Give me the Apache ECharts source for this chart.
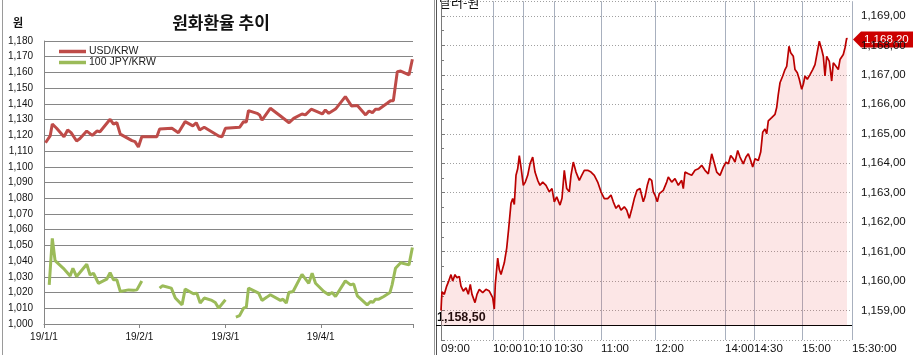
<!DOCTYPE html>
<html><head><meta charset="utf-8">
<script src="https://cdn.jsdelivr.net/npm/echarts@6/dist/echarts.min.js"></script>
<style>html,body{margin:0;padding:0;background:#fff}#c{width:913px;height:355px}</style>
</head><body><div id="c"></div>
<script>
// ---- Left panel: daily rates (x = days since 2019-01-01) ----
const monthTicks = [0, 31, 59, 90, 120];
const monthLabels = ['19/1/1', '19/2/1', '19/3/1', '19/4/1', ''];
const usdDays = [0.5,2,2.7,4.1,6.5,7.7,8.8,10.6,11.7,13.9,15.7,17.2,18.2,21.5,22.6,23.7,24.8,28.6,29.6,30.7,31.8,36.7,37.6,41.6,43.7,45.9,48.4,49.5,50.6,52.1,56.8,57.9,59,63.6,64.9,65.8,66.5,69.3,70.1,70.9,73.6,76.9,79.7,81.2,83.9,85,86.9,90.5,91.5,92.6,94.8,98,100,101.9,104.6,105.7,106.8,107.8,108.9,111.6,112.7,113.6,114.9,116,118.7,119.8];
const usdVals = [1115.3,1119.6,1127.2,1124.5,1119.1,1123.4,1121.7,1116.4,1118,1122.7,1120,1122.7,1122.3,1130.2,1127.2,1128,1120.8,1116.6,1116,1112.6,1119.1,1119.1,1124,1124.5,1121.7,1128.7,1126,1128,1123.4,1125.1,1119.6,1119.1,1124.5,1125.1,1128.7,1128.5,1135.7,1134,1133,1129.7,1137.2,1132.3,1128,1130.8,1133.6,1133,1136.6,1133.6,1136.1,1134,1136.7,1144.6,1138.7,1138.9,1133,1135.5,1134.4,1136.6,1136.6,1140.4,1142,1142,1160.5,1160.9,1158.4,1168.4];
const jpyDays = [1.7,2.7,3.6,6.3,8.5,9.4,10.6,13.9,15,16.1,17.7,20.4,21.5,22.6,23.7,24.8,27.5,29.1,30.2,31.8,34,37.6,38.5,41.4,42.7,44.9,45.9,48.6,49.7,50.8,52.1,54.6,55.7,56.8,59,61,62.4,63.6,64.9,65.8,66.5,69.8,70.9,72.5,73.6,76.9,77.7,78.8,79.6,81,83.9,86.1,87.2,88.3,91,92.6,93.7,94.8,98,99.7,100.7,101.9,105.1,106.2,107,107.8,108.9,110.5,112.5,113.2,114.3,116,118.7,119.8];
const jpyVals = [1024.9,1054.4,1040.3,1035.4,1030.6,1035.4,1030.2,1038,1031.2,1032.3,1025.9,1028.5,1032.7,1028.1,1028.1,1020.7,1021.7,1021.4,1021.7,1027.4,null,1022.8,1024.3,1022.8,1016.5,1012.2,1022.2,1019.2,1019.6,1013.3,1016.5,1015,1013.7,1010.1,1015.4,null,1004.4,1005.3,1010.1,1010.8,1022.8,1019.6,1015,1017.1,1018.6,1015,1015.8,1013.3,1020,1020.7,1031.6,1025.9,1032.3,1025.9,1020.7,1018.6,1020,1017.5,1027.4,1024.9,1025.5,1017.9,1012.2,1014.3,1013.7,1015.8,1015.8,1017.5,1020,1024.9,1035.4,1039,1037.6,1048.7];

// ---- Right panel: intraday USD/KRW (x = tick position index) ----
const timeTicks = [0, 52, 82, 113, 160, 214, 284, 313, 361, 411];
const timeLabels = ['09:00','10:00','10:10','10:30','11:00','12:00','14:00','14:30','15:00','15:30:00'];
const ivIdx = [0,0.5,1,3.3,5.7,7.7,10,11.7,14,16,18.3,20,22.3,25,27.3,29.3,31,34,36,38.3,41.7,45,48.3,50,51.7,53.3,54.3,56.7,58.3,60,63.3,65.7,67.7,70,71.7,73.3,75,76.7,78.3,80,82.3,84.3,86.7,89,91.7,94,96.7,99,101.7,105,108.3,111,113.3,115.7,119,121,123.3,125.7,128.3,130,132.3,135,138.3,140.7,143.3,146.7,150,153.3,156.7,160,163.3,166.7,170,172.3,175,177.7,180,183.3,185.7,188.3,191,193.3,196,199,202.3,204,206.3,208.3,210.7,212.3,214,216.3,218.3,222.3,225.7,227.3,230.7,234,237.3,240.7,242.3,244,247.3,250.7,254,257.3,260.7,264,267.3,270.7,273,275.7,279,282.3,285,287.3,289.7,292.3,294,296.7,299,302.3,305,307.3,309.7,311.7,314,317.3,319.7,321.7,324,325.7,327.3,330.7,334,335.7,337.3,339,341.7,344,345.7,348,349.7,352.3,354,356.3,358.3,360.7,362.3,364,366.3,369,371.7,374,375.7,378.3,380.7,382.3,384,385.7,388.3,390.7,392.3,395,397.3,399,402.3,404,405.7,406];
const ivVals = [1159.0,1159.35,1159.64,1159.55,1159.83,1160.0,1160.22,1160.0,1160.22,1160.11,1160.16,1159.83,1159.66,1159.77,1159.55,1159.89,1159.55,1159.27,1159.55,1159.72,1159.61,1159.72,1159.66,1159.72,1159.44,1159.05,1159.89,1160.78,1160.39,1160.22,1160.62,1161.12,1161.79,1162.64,1162.8,1162.6,1163.59,1163.81,1164.26,1163.87,1163.25,1163.36,1163.59,1163.98,1164.21,1163.7,1163.42,1163.25,1163.36,1163.25,1163.03,1163.14,1162.69,1162.86,1162.58,1162.81,1163.76,1163.14,1163.03,1163.59,1164.04,1163.7,1163.42,1163.59,1163.76,1163.76,1163.7,1163.59,1163.36,1163.03,1162.8,1162.8,1162.92,1162.69,1162.47,1162.58,1162.41,1162.52,1162.41,1162.13,1162.47,1162.8,1163.08,1163.14,1162.69,1162.86,1163.25,1163.48,1163.42,1163.03,1162.92,1162.69,1162.97,1163.08,1163.36,1163.53,1163.36,1163.48,1163.25,1163.42,1163.14,1163.7,1163.64,1163.59,1163.76,1163.81,1163.93,1163.76,1163.64,1164.32,1164.04,1163.7,1163.59,1163.87,1164.04,1163.98,1164.26,1164.15,1164.04,1164.43,1164.21,1163.98,1164.21,1164.32,1164.09,1163.87,1164.15,1164.09,1164.38,1165.05,1165.16,1165.0,1165.44,1165.55,1165.66,1165.89,1166.34,1166.73,1166.96,1167.18,1167.29,1167.97,1167.75,1167.63,1167.18,1167.07,1166.85,1166.51,1166.68,1166.96,1166.85,1167.01,1167.18,1167.35,1167.3,1168.14,1167.86,1167.63,1166.96,1167.63,1167.46,1166.79,1167.41,1167.29,1167.18,1167.52,1167.69,1167.92,1168.25,1168.2];
const lastPrice = 1168.20;
const basePrice = 1158.50;

const fmtInt = v => String(v).replace(/\B(?=(\d{3})+(?!\d))/g, ',');
const fmtDec = v => { const p = v.toFixed(2).split('.'); return fmtInt(p[0]) + ',' + p[1]; };

const usdData = usdDays.map((d, i) => [d, usdVals[i]]);
const jpyData = jpyDays.map((d, i) => [d, jpyVals[i] == null ? '-' : jpyVals[i]]);
const ivData = ivIdx.map((d, i) => [d, ivVals[i]]);

const F = 'Liberation Sans, Arial, sans-serif';
const chart = echarts.init(document.getElementById('c'), null, {renderer: 'canvas'});
chart.setOption({
  animation: false,
  backgroundColor: '#fff',
  textStyle: {fontFamily: F},
  legend: {
    data: ['USD/KRW', '100 JPY/KRW'], orient: 'vertical', left: 54, top: 41,
    icon: 'rect', itemWidth: 27, itemHeight: 3.5, itemGap: 0,
    textStyle: {fontSize: 10.5, color: '#222', fontFamily: F, padding: [0, 0, 0, -2]}
  },
  grid: [
    {left: 44, right: 500, top: 41, bottom: 31},
    {left: 441, right: 61, top: 1.2, bottom: 12.3}
  ],
  xAxis: [
    {type: 'value', gridIndex: 0, min: 0, max: 120,
     axisLine: {lineStyle: {color: '#868686'}},
     axisTick: {show: true, customValues: monthTicks, length: 4, lineStyle: {color: '#868686'}},
     axisLabel: {customValues: monthTicks.slice(0, 4), fontSize: 10, color: '#111', margin: 8,
       formatter: v => monthLabels[monthTicks.indexOf(v)] || ''},
     splitLine: {show: false}},
    {type: 'value', gridIndex: 1, min: 0, max: 411,
     axisLine: {show: false},
     axisTick: {show: false, customValues: timeTicks},
     axisLabel: {customValues: timeTicks, fontSize: 11.5, color: '#111', margin: 3, align: 'left',
       formatter: v => timeLabels[timeTicks.indexOf(v)] || ''},
     splitLine: {show: true, lineStyle: {color: '#a8b0be', width: 1}}}
  ],
  yAxis: [
    {type: 'value', gridIndex: 0, min: 1000, max: 1180, interval: 10,
     axisLine: {show: true, lineStyle: {color: '#868686'}},
     axisTick: {show: false},
     axisLabel: {fontSize: 10, color: '#111', margin: 11, formatter: v => fmtInt(v)},
     splitLine: {show: true, lineStyle: {color: '#868686', width: 1}}},
    {type: 'value', gridIndex: 1, position: 'right', min: 1158, max: 1169.5, interval: 1,
     axisLine: {show: true, lineStyle: {color: '#7a7a7a'}},
     axisTick: {show: true, length: 4, lineStyle: {color: '#7a7a7a'}},
     minorTick: {show: true, splitNumber: 2, length: 3, lineStyle: {color: '#7a7a7a'}},
     axisLabel: {fontSize: 11.5, color: '#111', margin: 9,
       formatter: v => (v % 1 !== 0 || v <= 1158) ? '' : fmtDec(v)},
     splitLine: {show: true, lineStyle: {color: '#a0a0a0', type: [1, 2], width: 1}}}
  ],
  series: [
    {name: 'USD/KRW', type: 'line', xAxisIndex: 0, yAxisIndex: 0, data: usdData,
     showSymbol: false, lineStyle: {color: '#BE4B48', width: 3}, itemStyle: {color: '#BE4B48'}},
    {name: '100 JPY/KRW', type: 'line', xAxisIndex: 0, yAxisIndex: 0, data: jpyData,
     showSymbol: false, connectNulls: false, lineStyle: {color: '#9BBB59', width: 3}, itemStyle: {color: '#9BBB59'}},
    {name: 'intraday', type: 'line', xAxisIndex: 1, yAxisIndex: 1, data: ivData,
     showSymbol: false, lineStyle: {color: '#bb0000', width: 1.7},
     areaStyle: {color: 'rgba(235,90,90,0.22)', origin: basePrice}}
  ]
});

const yTag = chart.convertToPixel({yAxisIndex: 1}, lastPrice);
const yBase = chart.convertToPixel({yAxisIndex: 1}, basePrice);
const KR = '"Noto Sans CJK KR", sans-serif';
chart.setOption({
  graphic: [
    {type: 'line', shape: {x1: 2.5, y1: 0, x2: 2.5, y2: 355}, style: {stroke: '#9a9a9a', lineWidth: 1}},
    {type: 'line', shape: {x1: 434.5, y1: 0, x2: 434.5, y2: 355}, style: {stroke: '#9a9a9a', lineWidth: 1}},
    {type: 'line', shape: {x1: 436.5, y1: 0, x2: 436.5, y2: 355}, style: {stroke: '#555', lineWidth: 1}},
    {type: 'text', x: 221, y: 23, style: {text: '원화환율 추이', font: 'bold 17px ' + KR, fill: '#111', textAlign: 'center', textVerticalAlign: 'middle'}},
    {type: 'text', x: 18, y: 23, style: {text: '원', font: 'bold 11px ' + KR, fill: '#111', textAlign: 'center', textVerticalAlign: 'middle'}},
    {type: 'text', x: 439, y: 2, style: {text: '달러-원', font: '13px ' + KR, fill: '#111', textAlign: 'left', textVerticalAlign: 'middle'}},
    {type: 'line', shape: {x1: 436, y1: Math.round(yBase) + 0.5, x2: 852, y2: Math.round(yBase) + 0.5}, style: {stroke: '#000', lineWidth: 1}},
    {type: 'text', x: 437, y: yBase - 1, style: {text: fmtDec(basePrice), font: 'bold 12.5px ' + F, fill: '#000', textAlign: 'left', textVerticalAlign: 'bottom'}},
    {type: 'polygon', shape: {points: [[853, yTag], [861, yTag - 8], [913, yTag - 8], [913, yTag + 8], [861, yTag + 8]]}, style: {fill: '#cc0000'}},
    {type: 'text', x: 864, y: yTag, style: {text: fmtDec(lastPrice), font: '11.5px ' + F, fill: '#fff', textAlign: 'left', textVerticalAlign: 'middle'}}
  ]
});
</script></body></html>
